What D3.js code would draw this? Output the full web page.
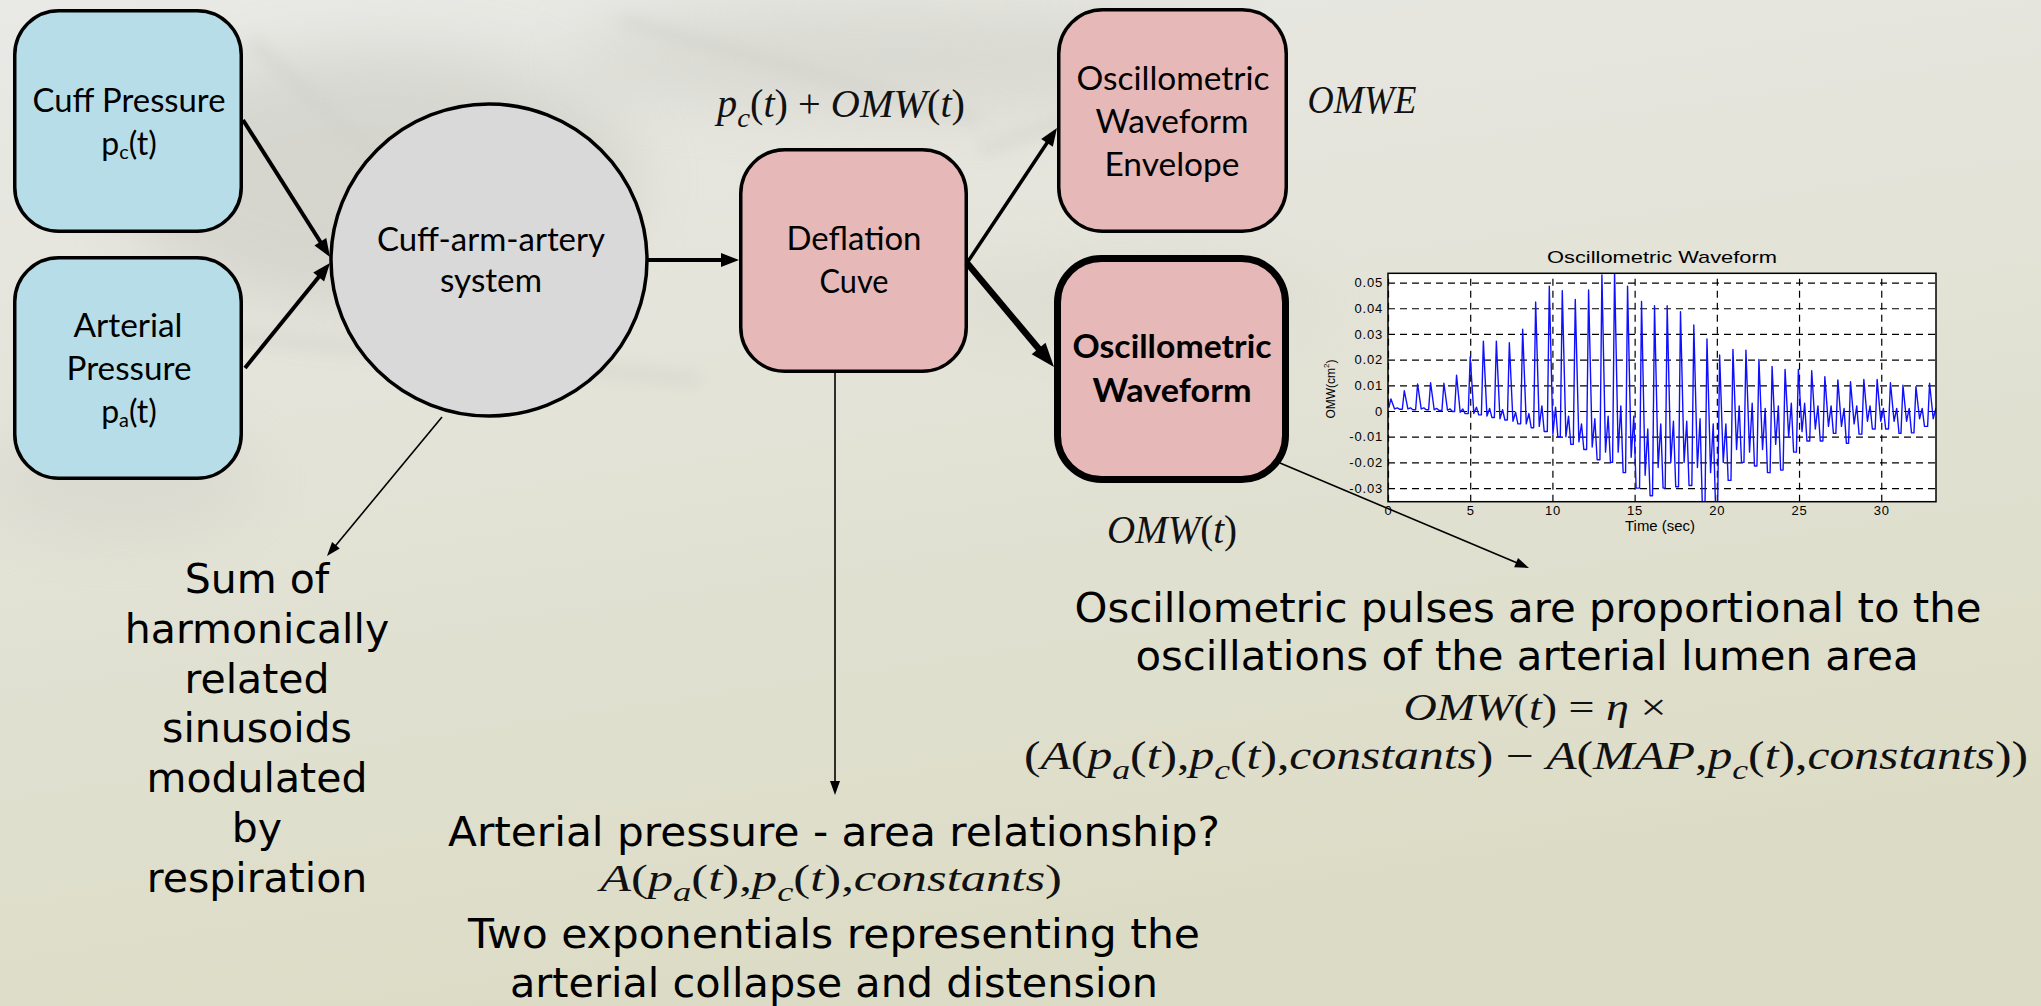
<!DOCTYPE html>
<html><head><meta charset="utf-8">
<script src="https://cdn.jsdelivr.net/npm/d3@7"></script>
<style>body{margin:0;overflow:hidden;background:#e0e0cf}svg{display:block}</style>
</head><body>
<svg id="c" width="2041" height="1006"></svg>
<script>
// ---------- DATA ----------
// beats of the oscillometric waveform
const pulseTime  = [0.18,0.99,1.80,2.59,3.40,4.17,5.00,5.80,6.59,7.38,8.19,8.98,9.81,10.60,11.39,12.20,13.01,13.78,14.57,15.42,16.21,16.98,17.79,18.60,19.40,20.17,20.98,21.77,22.56,23.36,24.15,24.96,25.77,26.57,27.36,28.13,28.94,29.75,30.56,31.32,32.11,32.94];
const pulsePeak  = [0.0047,0.0079,0.0105,0.011,0.0108,0.0139,0.0211,0.0272,0.0272,0.0266,0.0318,0.0424,0.0486,0.0468,0.0434,0.0471,0.053,0.0545,0.0486,0.0426,0.041,0.041,0.0387,0.0335,0.028,0.0218,0.024,0.0237,0.0201,0.0173,0.0162,0.0162,0.0157,0.0134,0.0121,0.0114,0.0123,0.0123,0.011,0.010,0.0095,0.0108];
const pulseNotch = [0.0008,0.0008,0.0008,0.0005,0.0003,-0.0005,-0.001,-0.002,-0.003,-0.004,-0.005,-0.006,-0.009,-0.010,-0.012,-0.014,-0.016,-0.016,-0.018,-0.025,-0.022,-0.020,-0.020,-0.022,-0.024,-0.020,-0.015,-0.016,-0.015,-0.013,-0.010,-0.008,-0.007,-0.006,-0.006,-0.005,-0.004,-0.004,-0.004,-0.004,-0.003,-0.003];
const pulseBump  = [0.0012,0.0012,0.0012,0.001,0.0008,0.0008,0.0015,0.001,0.0005,-0.0005,-0.001,0.002,0.0015,-0.002,-0.005,-0.003,-0.002,0.002,-0.002,-0.007,-0.005,-0.004,-0.004,-0.003,-0.005,-0.005,0.002,0.003,0.001,0.002,0.003,0.003,0.002,0.002,0.001,0.002,0.002,0.001,0.001,0.001,0.001,0.001];
const pulseFoot  = [0.0007,0.0005,0.0005,0.0002,-0.0002,-0.001,-0.0015,-0.0025,-0.0035,-0.005,-0.0065,-0.008,-0.010,-0.013,-0.015,-0.019,-0.020,-0.024,-0.030,-0.033,-0.030,-0.0295,-0.029,-0.037,-0.037,-0.027,-0.020,-0.0214,-0.024,-0.023,-0.016,-0.0117,-0.0117,-0.0087,-0.0126,-0.009,-0.007,-0.007,-0.0087,-0.0085,-0.006,-0.004];
const traceStartValue = 0.0015;
const xDomain = [0, 33.33];
const yDomain = [-0.0353, 0.0536];
const xTickValues = [0,5,10,15,20,25,30];
const xTickLabels = ["0","5","10","15","20","25","30"];
const yTickValues = [-0.03,-0.02,-0.01,0,0.01,0.02,0.03,0.04,0.05];
const yTickLabels = ["-0.03","-0.02","-0.01","0","0.01","0.02","0.03","0.04","0.05"];
const chartTitle = "Oscillometric Waveform";
const xAxisTitle = "Time (sec)";

// ---------- SETUP ----------
const svg = d3.select("#c");
const defs = svg.append("defs");
const bg = defs.append("linearGradient").attr("id","bg").attr("x1",0).attr("y1",0).attr("x2",0.3).attr("y2",1);
bg.append("stop").attr("offset","0%").attr("stop-color","#e9e9e6");
bg.append("stop").attr("offset","45%").attr("stop-color","#e3e3d8");
bg.append("stop").attr("offset","100%").attr("stop-color","#dcdcc6");
defs.append("filter").attr("id","blur").attr("x","-50%").attr("y","-50%").attr("width","200%").attr("height","200%")
  .append("feGaussianBlur").attr("stdDeviation",30);
defs.append("filter").attr("id","blur2").attr("x","-50%").attr("y","-50%").attr("width","200%").attr("height","200%")
  .append("feGaussianBlur").attr("stdDeviation",8);

svg.append("rect").attr("width",2041).attr("height",1006).attr("fill","url(#bg)");
// faint background texture
const tex = svg.append("g");
tex.append("ellipse").attr("cx",380).attr("cy",180).attr("rx",260).attr("ry",130).attr("fill","#b9b9b2").attr("opacity",0.35).attr("filter","url(#blur)");
tex.append("ellipse").attr("cx",900).attr("cy",60).attr("rx",330).attr("ry",55).attr("fill","#c3c3bb").attr("opacity",0.35).attr("filter","url(#blur)");
tex.append("ellipse").attr("cx",120).attr("cy",480).attr("rx",140).attr("ry",60).attr("fill","#c8c8c0").attr("opacity",0.3).attr("filter","url(#blur)");
tex.append("ellipse").attr("cx",1120).attr("cy",300).attr("rx",200).attr("ry",40).attr("fill","#cfcfc4").attr("opacity",0.3).attr("filter","url(#blur)");
[[250,40,560,330],[60,320,700,380],[620,20,980,120],[980,150,1250,60]].forEach(s=>{
  tex.append("line").attr("x1",s[0]).attr("y1",s[1]).attr("x2",s[2]).attr("y2",s[3]).attr("stroke","#cfcfc8").attr("stroke-width",10).attr("opacity",0.6).attr("filter","url(#blur2)");
});

// ---------- HELPERS ----------
function arrow(x1,y1,x2,y2,w,hl,hw){
  const dx=x2-x1, dy=y2-y1, L=Math.hypot(dx,dy), ux=dx/L, uy=dy/L;
  const bx=x2-ux*hl, by=y2-uy*hl;
  svg.append("line").attr("x1",x1).attr("y1",y1).attr("x2",bx+ux*2).attr("y2",by+uy*2)
    .attr("stroke","#000").attr("stroke-width",w);
  const px=-uy, py=ux;
  svg.append("path").attr("d",`M${x2},${y2}L${bx+px*hw/2},${by+py*hw/2}L${bx-px*hw/2},${by-py*hw/2}Z`).attr("fill","#000");
}
function label(x,y,str,opt){
  const t = svg.append("text").attr("x",x).attr("y",y).attr("text-anchor","middle")
    .attr("font-family",opt.family).attr("font-size",opt.size).attr("fill","#000")
    .attr("font-weight",opt.weight||"normal").text(str);
  if(opt.w) t.attr("textLength",opt.w).attr("lengthAdjust","spacingAndGlyphs");
  return t;
}
const BOX = "Lato, 'Open Sans', sans-serif";
const BIG = "'DejaVu Sans', Verdana, sans-serif";
const MATH = "'Liberation Serif', 'DejaVu Serif', serif";
// parts: [string, kind] kind: i = italic, n = upright, s = italic subscript
function math(x,y,parts,size,w){
  const t = svg.append("text").attr("x",x).attr("y",y).attr("text-anchor","middle")
    .attr("font-family",MATH).attr("font-size",size).attr("fill","#111");
  let sub=false;
  parts.forEach(p=>{
    const ts=t.append("tspan").text(p[0]);
    if(p[1]==="s"){ ts.attr("font-size",size*0.72).attr("font-style","italic").attr("dy",size*0.26); sub=true; }
    else { if(sub){ts.attr("dy",-size*0.26); sub=false;} ts.attr("font-style",p[1]==="n"?"normal":"italic"); }
  });
  if(w) t.attr("textLength",w).attr("lengthAdjust","spacingAndGlyphs");
  return t;
}
function subLabel(x,y,base,sub,tail,size){
  const t = svg.append("text").attr("x",x).attr("y",y).attr("text-anchor","middle")
    .attr("font-family",BOX).attr("font-size",size).attr("fill","#000");
  t.append("tspan").text(base);
  t.append("tspan").text(sub).attr("font-size",size*0.62).attr("dy",size*0.12);
  t.append("tspan").text(tail).attr("dy",-size*0.12);
}

// ---------- NODES ----------
function box(x,y,w,h,fill,sw){
  svg.append("rect").attr("x",x+sw/2).attr("y",y+sw/2).attr("width",w-sw).attr("height",h-sw)
    .attr("rx",44).attr("ry",44).attr("fill",fill).attr("stroke","#000").attr("stroke-width",sw);
}
box(13,9,230,224,"#b7dee8",3.5);
box(13,256,230,224,"#b7dee8",3.5);
svg.append("ellipse").attr("cx",489).attr("cy",260).attr("rx",158).attr("ry",156)
  .attr("fill","#d9d9d9").attr("stroke","#000").attr("stroke-width",3.5);
box(739,148,229,225,"#e6b8b7",3.5);
box(1057,8,231,225,"#e6b8b7",3.5);
box(1054,255,235,228,"#e6b8b7",7);

label(129,112,"Cuff Pressure",{family:BOX,size:32,w:193});
subLabel(129,155,"p","c","(t)",32);
label(128,337,"Arterial",{family:BOX,size:32,w:109});
label(129,380,"Pressure",{family:BOX,size:32,w:125});
subLabel(129,423,"p","a","(t)",32);
label(491,251,"Cuff-arm-artery",{family:BOX,size:32,w:228});
label(491,292,"system",{family:BOX,size:32,w:102});
label(854,250,"Deflation",{family:BOX,size:32,w:135});
label(854,293,"Cuve",{family:BOX,size:32,w:69});
label(1173,90,"Oscillometric",{family:BOX,size:32,w:193});
label(1172,133,"Waveform",{family:BOX,size:32,w:153});
label(1172,176,"Envelope",{family:BOX,size:32,w:135});
label(1172,358,"Oscillometric",{family:BOX,size:32,w:199,weight:"bold"});
label(1172,402,"Waveform",{family:BOX,size:32,w:159,weight:"bold"});

// ---------- ARROWS ----------
arrow(243,120,330,257,4,18,14);
arrow(245,368,330,263,4,18,14);
arrow(648,260,739,260,4,18,14);
arrow(967,263,1057,128,3.5,18,14);
arrow(967,263,1054,367,6.5,24,18);
arrow(835,373,835,795,1.6,14,10);
arrow(442,417,327,556,1.6,14,10);

// ---------- MATH LABELS ----------
math(841,117,[["p","i"],["c","s"],["(","n"],["t","i"],[")","n"],[" + ","n"],["OMW","i"],["(","n"],["t","i"],[")","n"]],39,248);
math(1362,113,[["OMWE","i"]],39,109);
math(1172,543,[["OMW","i"],["(","n"],["t","i"],[")","n"]],39,130);

// ---------- BIG TEXT ----------
["Sum of","harmonically","related","sinusoids","modulated","by","respiration"].forEach((s,i)=>{
  label(257,593+i*49.8,s,{family:BIG,size:41});
});
label(834,846,"Arterial pressure - area relationship?",{family:BIG,size:41,w:772});
math(831,891,[["A","i"],["(","n"],["p","i"],["a","s"],["(","n"],["t","i"],["),","n"],["p","i"],["c","s"],["(","n"],["t","i"],["),","n"],["constants","i"],[")","n"]],38,462);
label(834,948,"Two exponentials representing the",{family:BIG,size:41,w:732});
label(834,997,"arterial collapse and distension",{family:BIG,size:41,w:648});

label(1528,622,"Oscillometric pulses are proportional to the",{family:BIG,size:41,w:907});
label(1527,670,"oscillations of the arterial lumen area",{family:BIG,size:41,w:783});
math(1535,720,[["OMW","i"],["(","n"],["t","i"],[")","n"],[" = ","n"],["η","i"],[" ×","n"]],38,263);
math(1526,769,[["(","n"],["A","i"],["(","n"],["p","i"],["a","s"],["(","n"],["t","i"],["),","n"],["p","i"],["c","s"],["(","n"],["t","i"],["),","n"],["constants","i"],[") − ","n"],["A","i"],["(","n"],["MAP","i"],[",","n"],["p","i"],["c","s"],["(","n"],["t","i"],["),","n"],["constants","i"],["))","n"]],39,1004);

// ---------- CHART ----------
const x = d3.scaleLinear().domain(xDomain).range([1388,1936]);
const y = d3.scaleLinear().domain(yDomain).range([501.7,273.3]);
const pw = 1936-1388, ph = 501.7-273.3;
const ch = svg.append("g");
ch.append("rect").attr("x",1388).attr("y",273.3).attr("width",pw).attr("height",ph).attr("fill","#fff");
// dashed grid
ch.append("g").attr("transform","translate(1388,0)")
  .call(d3.axisLeft(y).tickValues(yTickValues).tickSize(-pw).tickFormat(""))
  .call(g=>{g.select(".domain").remove(); g.selectAll("line").attr("stroke","#000").attr("stroke-width",1.2).attr("stroke-dasharray","7,5");});
ch.append("g").attr("transform","translate(0,501.7)")
  .call(d3.axisBottom(x).tickValues(xTickValues).tickSize(-ph).tickFormat(""))
  .call(g=>{g.select(".domain").remove(); g.selectAll("line").attr("stroke","#000").attr("stroke-width",1.2).attr("stroke-dasharray","7,5");});

// waveform path from beat data
const pts = [[0,traceStartValue]];
pulseTime.forEach((t,i)=>{
  const prev = i===0 ? traceStartValue : pulseFoot[i-1];
  pts.push([t-0.12,prev]);
  pts.push([t,pulsePeak[i]]);
  pts.push([t+0.22,pulseNotch[i]]);
  pts.push([t+0.38,pulseBump[i]]);
  pts.push([t+0.52,pulseFoot[i]]);
});
defs.append("clipPath").attr("id","pc").append("rect").attr("x",1388).attr("y",273.3).attr("width",pw).attr("height",ph);
ch.append("path").datum(pts).attr("clip-path","url(#pc)")
  .attr("d",d3.line().x(d=>x(d[0])).y(d=>y(d[1])))
  .attr("fill","none").attr("stroke","#1010ff").attr("stroke-width",1.4).attr("stroke-linejoin","round");

ch.append("rect").attr("x",1388).attr("y",273.3).attr("width",pw).attr("height",ph).attr("fill","none").attr("stroke","#000").attr("stroke-width",1.5);

// tick labels
ch.append("g").attr("transform","translate(1388,0)")
  .call(d3.axisLeft(y).tickValues(yTickValues).tickSize(0).tickPadding(5).tickFormat((d,i)=>yTickLabels[i]))
  .call(g=>{g.select(".domain").remove(); g.selectAll("text").attr("font-family","'Liberation Sans', Arial, sans-serif").attr("font-size",13).attr("letter-spacing",0.8).attr("fill","#000");});
ch.append("g").attr("transform","translate(0,501.7)")
  .call(d3.axisBottom(x).tickValues(xTickValues).tickSize(0).tickPadding(4).tickFormat((d,i)=>xTickLabels[i]))
  .call(g=>{g.select(".domain").remove(); g.selectAll("text").attr("font-family","'Liberation Sans', Arial, sans-serif").attr("font-size",13).attr("letter-spacing",0.8).attr("fill","#000");});
ch.append("text").attr("x",1662).attr("y",263).attr("text-anchor","middle").attr("font-family","'Liberation Sans', Arial, sans-serif")
  .attr("font-size",17).attr("textLength",230).attr("lengthAdjust","spacingAndGlyphs").text(chartTitle);
ch.append("text").attr("x",1660).attr("y",531).attr("text-anchor","middle").attr("font-family","'Liberation Sans', Arial, sans-serif")
  .attr("font-size",14).attr("textLength",70).attr("lengthAdjust","spacingAndGlyphs").text(xAxisTitle);
const yl = ch.append("text").attr("transform","translate(1335,389) rotate(-90)").attr("text-anchor","middle")
  .attr("font-family","'Liberation Sans', Arial, sans-serif").attr("font-size",12);
yl.append("tspan").text("OMW(cm");
yl.append("tspan").text("2").attr("font-size",8).attr("dy",-6);
yl.append("tspan").text(")").attr("dy",6);

// connector from OMW box to description (drawn over chart corner)
arrow(1280,463,1529,568,1.6,14,10);
</script>
</body></html>
